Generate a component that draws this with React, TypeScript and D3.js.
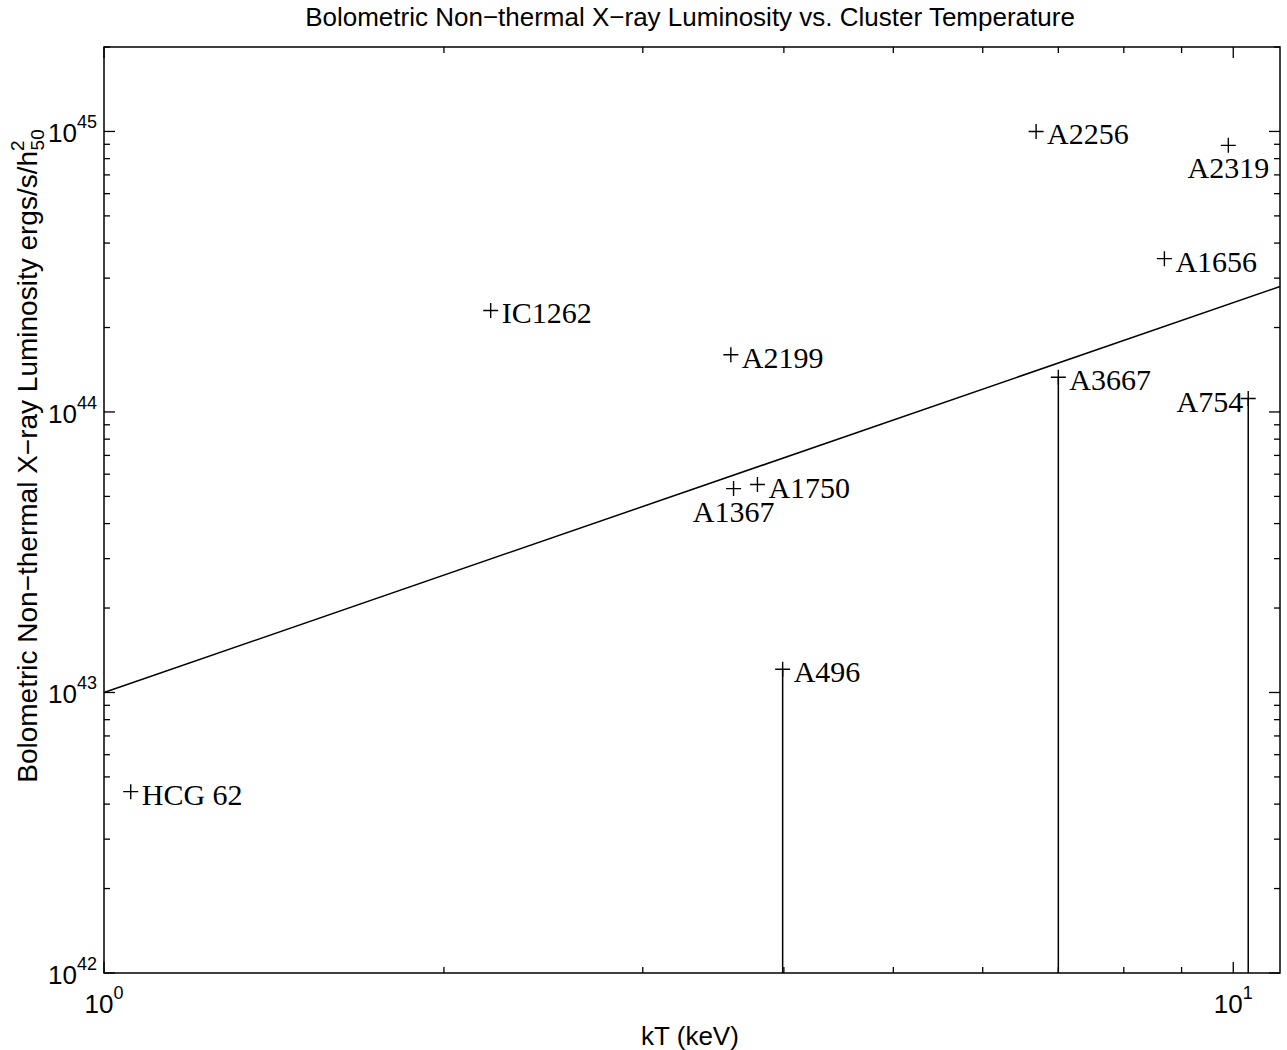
import React from "react";
import * as d3 from "d3";

// cluster names, temperatures (keV) and luminosities (ergs/s/h50^2)
const clusters = ["HCG 62", "IC1262", "A2199", "A1367", "A1750", "A496", "A3667", "A754", "A2256", "A2319", "A1656"];
const kT = [1.056, 2.2, 3.59, 3.61, 3.79, 3.99, 7.0, 10.31, 6.69, 9.9, 8.69];
const lum = [4.43e42, 2.3e44, 1.6e44, 5.33e43, 5.51e43, 1.21e43, 1.33e44, 1.117e44, 1.0e45, 8.92e44, 3.52e44];
// upper-limit style points: drawn with a line down to the x axis
const withDrop = ["A496", "A3667", "A754"];
// where the label sits relative to the "+"
const labelPos = ["right", "right", "right", "below", "right", "right", "right", "left", "right", "below", "right"];

// fitted relation
const fitKT = [1, 11];
const fitL = [1e43, 2.8e44];

const xTickExp = [0, 1];
const yTickExp = [42, 43, 44, 45];

const W = 1287;
const H = 1050;
const m = { left: 104, right: 1280, top: 47, bottom: 973 };

const sans = "'Liberation Sans', Arial, Helvetica, sans-serif";
const serif = "'Liberation Serif', 'Times New Roman', serif";

export default function App() {
  const x = d3.scaleLog().domain([1, 11]).range([m.left, m.right]);
  const y = d3.scaleLog().domain([1e42, 2e45]).range([m.bottom, m.top]);

  const xMinor: number[] = [];
  for (let d = 1; d <= 10; d *= 10)
    for (let k = 2; k <= 9; k++) if (d * k < 11) xMinor.push(d * k);

  const yMinor: number[] = [];
  for (let e = 42; e <= 45; e++)
    for (let k = 2; k <= 9; k++) if (k * Math.pow(10, e) <= 2e45) yMinor.push(k * Math.pow(10, e));

  const line = d3
    .line<number>()
    .x((d) => x(fitKT[d]))
    .y((d) => y(fitL[d]));

  const big = 11;
  const small = 6;

  return (
    <svg width={W} height={H} style={{ position: "absolute", left: 0, top: 0, background: "#fff" }}>
      {/* title */}
      <text x={690} y={26} textAnchor="middle" fontFamily={sans} fontSize={26}>
        Bolometric Non−thermal X−ray Luminosity vs. Cluster Temperature
      </text>

      {/* frame */}
      <rect
        x={m.left}
        y={m.top}
        width={m.right - m.left}
        height={m.bottom - m.top}
        fill="none"
        stroke="#000"
        strokeWidth={1.5}
      />

      {/* ticks */}
      <g stroke="#000" strokeWidth={1.3}>
        {xTickExp.map((e) => {
          const px = x(Math.pow(10, e));
          return (
            <g key={"xt" + e}>
              <line x1={px} x2={px} y1={m.bottom} y2={m.bottom - big} />
              <line x1={px} x2={px} y1={m.top} y2={m.top + big} />
            </g>
          );
        })}
        {xMinor.map((v) => (
          <g key={"xm" + v}>
            <line x1={x(v)} x2={x(v)} y1={m.bottom} y2={m.bottom - small} />
            <line x1={x(v)} x2={x(v)} y1={m.top} y2={m.top + small} />
          </g>
        ))}
        {yTickExp.map((e) => {
          const py = y(Math.pow(10, e));
          return (
            <g key={"yt" + e}>
              <line x1={m.left} x2={m.left + big} y1={py} y2={py} />
              <line x1={m.right} x2={m.right - big} y1={py} y2={py} />
            </g>
          );
        })}
        {yMinor.map((v) => (
          <g key={"ym" + v}>
            <line x1={m.left} x2={m.left + small} y1={y(v)} y2={y(v)} />
            <line x1={m.right} x2={m.right - small} y1={y(v)} y2={y(v)} />
          </g>
        ))}
      </g>

      {/* tick labels */}
      {xTickExp.map((e) => (
        <text key={"xl" + e} x={x(Math.pow(10, e))} y={1013} textAnchor="middle" fontFamily={sans} fontSize={26}>
          10
          <tspan fontSize={18} dy={-14}>
            {e}
          </tspan>
        </text>
      ))}
      {yTickExp.map((e) => (
        <text key={"yl" + e} x={97} y={y(Math.pow(10, e)) + 11} textAnchor="end" fontFamily={sans} fontSize={26}>
          10
          <tspan fontSize={18} dy={-14}>
            {e}
          </tspan>
        </text>
      ))}

      {/* axis labels */}
      <text x={690} y={1045} textAnchor="middle" fontFamily={sans} fontSize={26}>
        kT (keV)
      </text>
      <text transform="translate(37,456) rotate(-90)" textAnchor="middle" fontFamily={sans} fontSize={28}>
        Bolometric Non−thermal X−ray Luminosity ergs/s/h
        <tspan fontSize={19} dy={-13}>
          2
        </tspan>
        <tspan fontSize={19} dx={-10} dy={20}>
          50
        </tspan>
      </text>

      {/* fit line */}
      <path d={line([0, 1]) || ""} fill="none" stroke="#000" strokeWidth={1.5} />

      {/* drop lines */}
      {clusters.map((c, i) =>
        withDrop.includes(c) ? (
          <line key={"d" + c} x1={x(kT[i])} x2={x(kT[i])} y1={y(lum[i])} y2={m.bottom} stroke="#000" strokeWidth={1.5} />
        ) : null
      )}

      {/* points and names */}
      {clusters.map((c, i) => {
        const px = x(kT[i]);
        const py = y(lum[i]);
        const pos = labelPos[i];
        let tx = px + 11;
        let ty = py + 13;
        let anchor = "start";
        if (pos === "below") {
          tx = px;
          ty = py + 33;
          anchor = "middle";
        } else if (pos === "left") {
          tx = px - 5;
          ty = py + 14;
          anchor = "end";
        }
        return (
          <g key={c}>
            <path d={`M${px - 7.5},${py}H${px + 7.5}M${px},${py - 7.5}V${py + 7.5}`} stroke="#000" strokeWidth={1.4} />
            <text x={tx} y={ty} textAnchor={anchor} fontFamily={serif} fontSize={30}>
              {c}
            </text>
          </g>
        );
      })}
    </svg>
  );
}
